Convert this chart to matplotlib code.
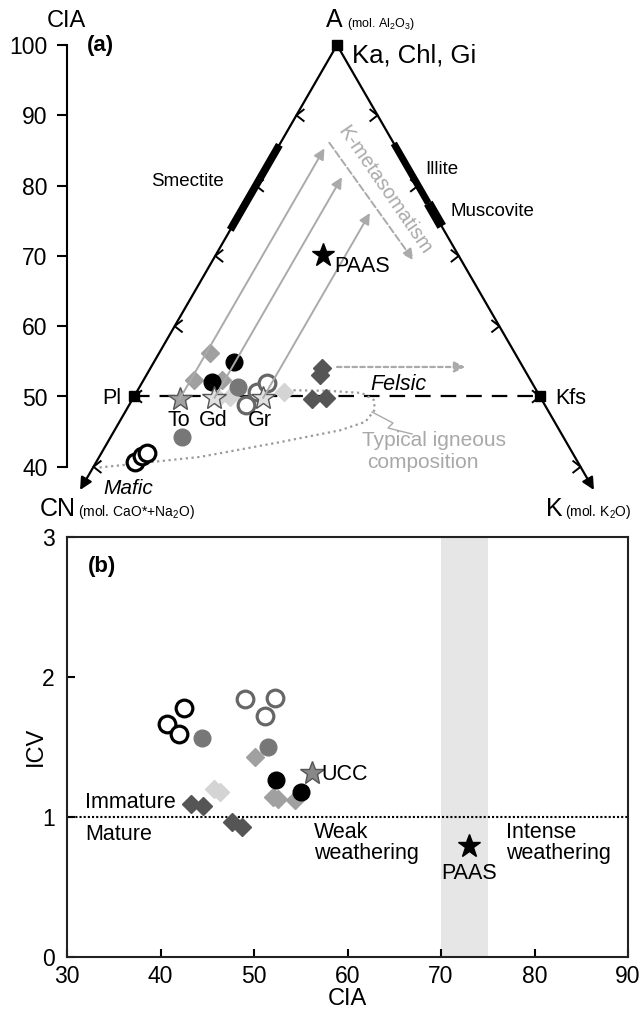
import numpy as np
import matplotlib
matplotlib.use('Agg')
import matplotlib.pyplot as plt

plt.rcParams['font.family'] = ['Liberation Sans', 'DejaVu Sans']
plt.rcParams['mathtext.default'] = 'regular'

W, H = 642, 1015

# ---------------- panel (a) data: CIA and K (mol %) ----------------
mafic_cia = [40.7, 41.5, 41.9]
mafic_k = [4.8, 5.2, 5.7]
gcirc_cia = [51.35, 44.2]
gcirc_k = [12.1, 8.8]
bcirc_cia = [54.9, 52.1]
bcirc_k = [9.8, 8.5]
ocirc_cia = [48.8, 50.6, 51.9]
ocirc_k = [14.4, 14.9, 15.4]
gdia_cia = [56.2, 52.35, 52.35]
gdia_k = [6.3, 6.2, 9.6]
ldia_cia = [49.8, 49.9, 50.6]
ldia_k = [10.5, 11.9, 18.2]
ddia_cia = [54.05, 53.1, 49.65, 49.8]
ddia_k = [21.1, 21.4, 22.1, 23.7]
gran_names = ['To', 'Gd', 'Gr']
gran_cia = [49.6, 49.8, 49.8]
gran_k = [5.8, 10.0, 16.0]
arrow_top_cia = [85.3, 81.2, 76.1]
paas_a = (70.1, 13.2)

# typical igneous composition outline (CIA, K)
ign_cia = [39.9, 41.4, 43.5, 45.2, 46.4, 48.1, 49.5, 50.5, 50.8, 50.9]
ign_k = [0.8, 12.4, 21.2, 27.8, 30.3, 30.6, 29.8, 27.8, 23.7, 18.8]

# ---------------- panel (b) data: CIA vs ICV ----------------
b_mafic_cia = [40.7, 42.5, 42.0]
b_mafic_icv = [1.66, 1.78, 1.59]
b_gcirc_cia = [44.4, 51.5]
b_gcirc_icv = [1.56, 1.50]
b_ocirc_cia = [49.0, 52.2, 51.2]
b_ocirc_icv = [1.84, 1.85, 1.72]
b_bcirc_cia = [52.4, 55.0]
b_bcirc_icv = [1.26, 1.18]
b_gdia_cia = [50.1, 52.0, 52.6, 54.4]
b_gdia_icv = [1.43, 1.14, 1.13, 1.12]
b_ldia_cia = [45.7, 46.4]
b_ldia_icv = [1.20, 1.18]
b_ddia_cia = [43.3, 44.5, 47.6, 48.7]
b_ddia_icv = [1.09, 1.08, 0.96, 0.93]
ucc = (56.2, 1.31)
paas_b = (73.0, 0.79)


def tern(cia, k):
    cia = np.asarray(cia, dtype=float)
    k = np.asarray(k, dtype=float)
    return (0.5 * cia + k) * 2 / np.sqrt(3), cia


fig = plt.figure(figsize=(W / 100, H / 100), dpi=100)


def ftext(px, py, s, **kw):
    fig.text(px / W, 1 - py / H, s, **kw)


# ---------------- panel (a) ----------------
s = 7.03          # px per CIA unit
apex_x, apex_y = 337, 45
ax = fig.add_axes([67 / W, 1 - 515 / H, (W - 67) / W, (515 - 10) / H])
ax.set_xlim(57.735 + (67 - apex_x) / s, 57.735 + (W - apex_x) / s)
ax.set_ylim(100 - (515 - apex_y) / s, 100 - (10 - apex_y) / s)
for sp in ['top', 'right', 'bottom']:
    ax.spines[sp].set_visible(False)
ax.spines['left'].set_bounds(40, 100)
ax.spines['left'].set_linewidth(1.5)
ax.set_xticks([])
ax.set_yticks(range(40, 101, 10))
ax.tick_params(axis='y', direction='out', length=7, width=1.5, labelsize=16.5, pad=7)

# triangle edges with arrowheads
bottom_cia = 36.7
for xy in [tern(bottom_cia, 0), tern(bottom_cia, 100 - bottom_cia)]:
    ax.annotate('', xy=xy, xytext=tern(100, 0),
                arrowprops=dict(arrowstyle='-|>', lw=1.6, color='k',
                                mutation_scale=18, shrinkA=0, shrinkB=0))
# chevron ticks
L = 1.3
ang = np.radians(38)
for c in [90, 80, 70, 60, 50, 40]:
    x0, y0 = tern(c, 0)
    ax.plot([x0 + L * np.cos(ang), x0, x0 + L * np.cos(ang)],
            [y0 + L * np.sin(ang), y0, y0 - L * np.sin(ang)], color='k', lw=1.4)
    x1, y1 = tern(c, 100 - c)
    ax.plot([x1 - L * np.cos(ang), x1, x1 - L * np.cos(ang)],
            [y1 + L * np.sin(ang), y1, y1 - L * np.sin(ang)], color='k', lw=1.4)

# clay mineral bars
def bar(c0, c1, side, lw):
    if side == 'left':
        xs, ys = tern([c0, c1], [0, 0])
    else:
        xs, ys = tern([c0, c1], [100 - c0, 100 - c1])
    ax.plot(xs, ys, color='k', lw=lw, solid_capstyle='butt')


bar(73.7, 85.8, 'left', 5.5)
bar(77.5, 86.0, 'right', 5.0)
bar(74.2, 77.5, 'right', 7.0)

# feldspar join
x, y = tern([50, 50], [0, 50])
ax.plot(x, y, color='k', lw=1.6, dashes=(7, 4.5))
for c, k in [(100, 0), (50, 0), (50, 50)]:
    ax.plot(*tern(c, k), 's', color='k', ms=7)

# igneous trend
x, y = tern(ign_cia, ign_k)
ax.plot(x, y, color='#9a9a9a', lw=1.6, linestyle=(0, (1, 1.6)))

# weathering trends
for c0, k0, c1 in zip(gran_cia, gran_k, arrow_top_cia):
    ax.annotate('', xy=tern(c1, k0), xytext=tern(c0, k0),
                arrowprops=dict(arrowstyle='-|>', lw=1.4, color='#aaaaaa',
                                mutation_scale=16, shrinkA=0, shrinkB=0))
ax.annotate('', xy=tern(69.4, 24.7), xytext=tern(86.1, 6.0),
            arrowprops=dict(arrowstyle='-|>', lw=1.4, color='#aaaaaa', linestyle='--',
                            mutation_scale=16, shrinkA=0, shrinkB=0))
ax.annotate('', xy=tern(54.2, 38.7), xytext=tern(54.2, 22.9),
            arrowprops=dict(arrowstyle='-|>', lw=1.6, color='#aaaaaa', linestyle=(0, (2, 1.5)),
                            mutation_scale=16, shrinkA=0, shrinkB=0))

# samples
ms_c, ms_d = 12, 9.5
ax.plot(*tern(gdia_cia, gdia_k), 'D', color='#a0a0a0', ms=ms_d)
ax.plot(*tern(ldia_cia, ldia_k), 'D', color='#d4d4d4', ms=ms_d)
ax.plot(*tern(ddia_cia, ddia_k), 'D', color='#555555', ms=ms_d)
ax.plot(*tern(gcirc_cia, gcirc_k), 'o', color='#777777', ms=ms_c)
ax.plot(*tern(bcirc_cia, bcirc_k), 'o', color='k', ms=ms_c)
ax.plot(*tern(ocirc_cia, ocirc_k), 'o', mfc='white', mec='#666666', mew=2.3, ms=ms_c)
ax.plot(*tern(mafic_cia, mafic_k), 'o', mfc='white', mec='k', mew=2.3, ms=ms_c)
star_fc = ['#a0a0a0', '#e0e0e0', '#e0e0e0']
for c, k, fc in zip(gran_cia, gran_k, star_fc):
    ax.plot(*tern(c, k), '*', mfc=fc, mec='#555555', mew=1, ms=18)
ax.plot(*tern(*paas_a), '*', color='k', ms=17)

# panel (a) text
fs = 15.5
ftext(66, 21, 'CIA', fontsize=17, ha='center', va='center')
ftext(87, 46, '(a)', fontsize=16, fontweight='bold', ha='left', va='center')
ftext(326, 20, 'A', fontsize=18, ha='left', va='center')
ftext(347, 24, '(mol. Al$_2$O$_3$)', fontsize=9, ha='left', va='center')
ftext(352, 55, 'Ka, Chl, Gi', fontsize=18.5, ha='left', va='center')
ftext(224, 181, 'Smectite', fontsize=13.5, ha='right', va='center')
ftext(425, 170, 'Illite', fontsize=13.5, ha='left', va='center')
ftext(450, 211, 'Muscovite', fontsize=13.5, ha='left', va='center')
ftext(385, 190, 'K-metasomatism', fontsize=14.5, color='#aaaaaa', ha='center', va='center',
      rotation=-55.5, rotation_mode='anchor')
ftext(334, 266, 'PAAS', fontsize=fs, ha='left', va='center')
ftext(121, 398, 'Pl', fontsize=fs, ha='right', va='center')
ftext(555, 398, 'Kfs', fontsize=fs, ha='left', va='center')
for name, px in zip(gran_names, [179, 213, 260]):
    ftext(px, 421, name, fontsize=fs, ha='center', va='center')
ftext(370, 385, 'Felsic', fontsize=fs, style='italic', ha='left', va='center')
ftext(103, 489, 'Mafic', fontsize=fs - 0.5, style='italic', ha='left', va='center')
ftext(362, 440, 'Typical igneous', fontsize=15, color='#a8a8a8', ha='left', va='center')
ftext(367, 463, 'composition', fontsize=15, color='#a8a8a8', ha='left', va='center')
fig.add_artist(plt.Line2D(np.array([372, 393, 388, 412]) / W,
                          1 - np.array([412, 423, 428, 434]) / H,
                          color='#aaaaaa', lw=1))
ftext(40, 509, 'CN', fontsize=18, ha='left', va='center')
ftext(78, 512, '(mol. CaO*+Na$_2$O)', fontsize=10, ha='left', va='center')
ftext(546, 509, 'K', fontsize=18, ha='left', va='center')
ftext(565, 512, '(mol. K$_2$O)', fontsize=10, ha='left', va='center')

# ---------------- panel (b) ----------------
right_px = 628
bx = fig.add_axes([67 / W, 1 - 956.7 / H, (right_px - 67) / W, (956.7 - 536.7) / H])
bx.set_xlim(30, 90)
bx.set_ylim(0, 3)
bx.axvspan(70, 75, color='#e6e6e6', lw=0, zorder=0)
bx.axhline(1, color='k', lw=1.5, linestyle=(0, (1, 1)))
for sp in bx.spines.values():
    sp.set_linewidth(1.5)
    sp.set_color('#222222')
bx.set_xticks(range(30, 91, 10))
bx.set_yticks([0, 1, 2, 3])
bx.tick_params(direction='in', length=6, width=1.5, labelsize=16.5)
bx.tick_params(axis='y', pad=9)
bx.tick_params(axis='x', pad=6)
bx.set_xlabel('CIA', fontsize=17, labelpad=0)
bx.set_ylabel('ICV', fontsize=17)
bx.yaxis.set_label_coords(-0.035, 0.5)

bx.plot(b_gdia_cia, b_gdia_icv, 'D', color='#a0a0a0', ms=ms_d)
bx.plot(b_ldia_cia, b_ldia_icv, 'D', color='#d4d4d4', ms=ms_d)
bx.plot(b_ddia_cia, b_ddia_icv, 'D', color='#555555', ms=ms_d)
bx.plot(b_gcirc_cia, b_gcirc_icv, 'o', color='#777777', ms=ms_c)
bx.plot(b_bcirc_cia, b_bcirc_icv, 'o', color='k', ms=ms_c)
bx.plot(b_ocirc_cia, b_ocirc_icv, 'o', mfc='white', mec='#666666', mew=2.3, ms=ms_c)
bx.plot(b_mafic_cia, b_mafic_icv, 'o', mfc='white', mec='k', mew=2.3, ms=ms_c)
bx.plot(*ucc, '*', mfc='#888888', mec='#555555', ms=18)
bx.plot(*paas_b, '*', color='k', ms=17)

bx.text(0.037, 0.955, '(b)', transform=bx.transAxes, fontsize=16, fontweight='bold',
        ha='left', va='top')
bx.text(ucc[0] + 1.0, ucc[1] - 0.01, 'UCC', fontsize=fs, ha='left', va='center')
bx.text(paas_b[0], paas_b[1] - 0.12, 'PAAS', fontsize=fs, ha='center', va='top')
bx.text(31.9, 1.1, 'Immature', fontsize=fs, ha='left', va='center')
bx.text(31.9, 0.87, 'Mature', fontsize=fs, ha='left', va='center')
bx.text(56.4, 0.81, 'Weak\nweathering', fontsize=fs, ha='left', va='center', linespacing=1.0)
bx.text(77.0, 0.81, 'Intense\nweathering', fontsize=fs, ha='left', va='center', linespacing=1.0)

fig.savefig('out.png', dpi=100)
